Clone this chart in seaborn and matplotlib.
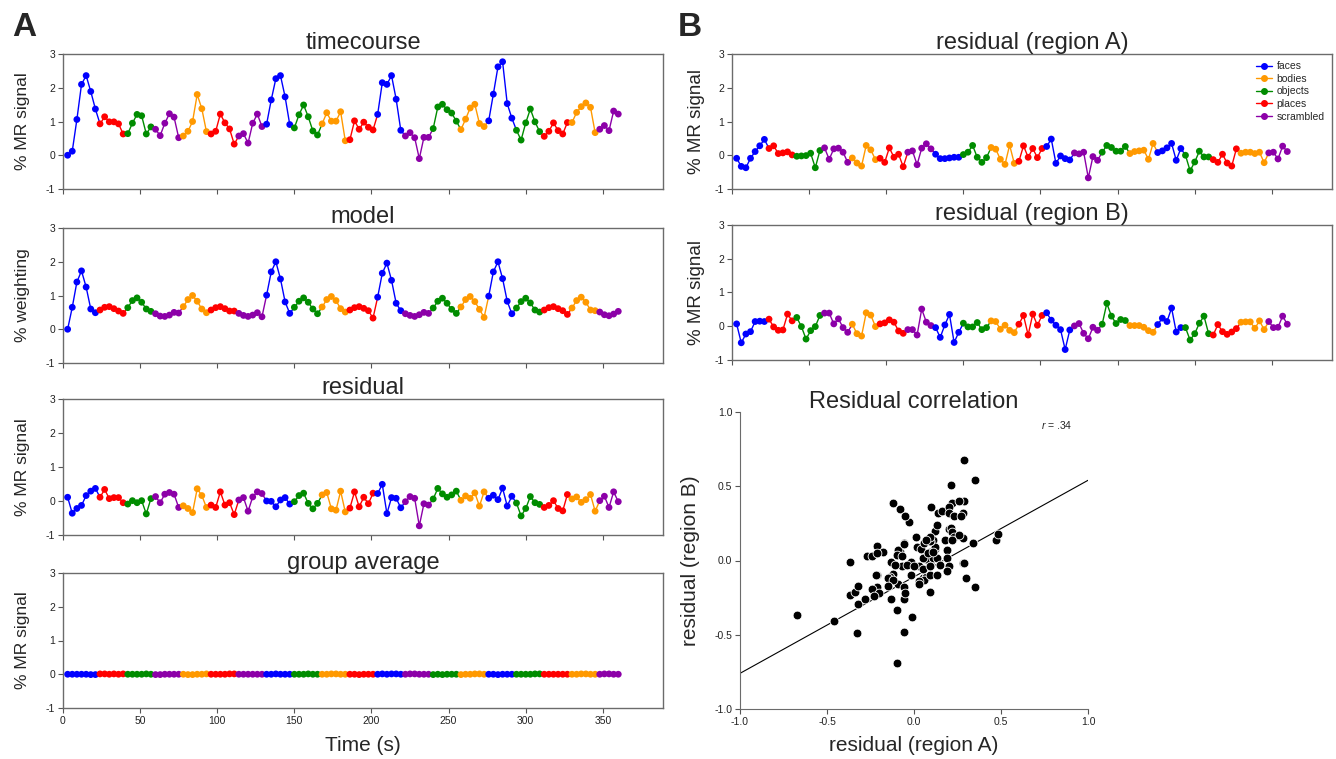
import numpy as np
import pandas as pd
import matplotlib
matplotlib.use('Agg')
import matplotlib.pyplot as plt
from matplotlib.lines import Line2D
import seaborn as sns

# block design: 20 blocks, one sample every 3 s
block_order = ['faces', 'places', 'objects', 'scrambled', 'bodies', 'places', 'scrambled',
               'faces', 'objects', 'bodies', 'places', 'faces', 'scrambled', 'objects',
               'bodies', 'faces', 'objects', 'places', 'bodies', 'scrambled']
legend_order = ['faces', 'bodies', 'objects', 'places', 'scrambled']
palette = {'faces': '#0000ff', 'bodies': '#ff9900', 'objects': '#008c00',
           'places': '#ff0000', 'scrambled': '#8c00a8'}
tr = 3
n_points = 120

timecourse = [0.00, 0.12, 1.06, 2.10, 2.36, 1.89, 1.37,
              0.93, 1.14, 0.99, 0.99, 0.93, 0.63,
              0.64, 0.95, 1.21, 1.17, 0.63, 0.84,
              0.77, 0.58, 0.95, 1.23, 1.13, 0.52,
              0.57, 0.71, 1.00, 1.80, 1.38, 0.70,
              0.63, 0.71, 1.22, 0.96, 0.78, 0.33,
              0.57, 0.64, 0.36, 0.95, 1.22, 0.85,
              0.92, 1.64, 2.27, 2.36, 1.73, 0.91,
              0.81, 1.20, 1.49, 1.14, 0.72, 0.60,
              0.93, 1.26, 1.01, 1.01, 1.29, 0.43,
              0.46, 1.02, 0.77, 0.98, 0.83, 0.75,
              1.21, 2.15, 2.10, 2.36, 1.66, 0.74,
              0.57, 0.67, 0.52, -0.10, 0.53, 0.53,
              0.79, 1.43, 1.51, 1.35, 1.25, 1.01,
              0.76, 1.07, 1.40, 1.51, 0.94, 0.85,
              1.02, 1.81, 2.62, 2.77, 1.53, 1.10,
              0.74, 0.45, 0.96, 1.37, 0.99, 0.70,
              0.56, 0.71, 0.96, 0.73, 0.63, 0.97,
              0.97, 1.27, 1.44, 1.55, 1.42, 0.67,
              0.77, 0.88, 0.73, 1.31, 1.22]

model = [0.00, 0.65, 1.40, 1.73, 1.25, 0.60, 0.49,
         0.57, 0.65, 0.67, 0.61, 0.54, 0.47,
         0.64, 0.85, 0.93, 0.80, 0.60, 0.53,
         0.46, 0.39, 0.38, 0.42, 0.50, 0.48,
         0.67, 0.88, 1.00, 0.83, 0.60, 0.49,
         0.57, 0.64, 0.67, 0.61, 0.54, 0.54,
         0.47, 0.41, 0.38, 0.42, 0.49, 0.37,
         1.01, 1.70, 2.00, 1.49, 0.81, 0.47,
         0.65, 0.83, 0.93, 0.80, 0.60, 0.46,
         0.66, 0.88, 0.97, 0.85, 0.61, 0.51,
         0.57, 0.64, 0.67, 0.62, 0.55, 0.33,
         0.95, 1.66, 1.96, 1.45, 0.77, 0.55,
         0.46, 0.41, 0.38, 0.43, 0.50, 0.47,
         0.63, 0.83, 0.92, 0.77, 0.59, 0.47,
         0.66, 0.88, 0.97, 0.82, 0.59, 0.35,
         0.98, 1.70, 2.00, 1.50, 0.83, 0.46,
         0.63, 0.82, 0.92, 0.78, 0.57, 0.51,
         0.57, 0.64, 0.67, 0.61, 0.55, 0.44,
         0.63, 0.85, 0.95, 0.80, 0.57, 0.55,
         0.51, 0.43, 0.40, 0.45, 0.53]

residual = [0.11, -0.36, -0.22, -0.13, 0.16, 0.29, 0.37,
            0.11, 0.34, 0.07, 0.10, 0.10, -0.05,
            -0.09, 0.01, -0.05, 0.01, -0.38, 0.07,
            0.13, -0.05, 0.20, 0.25, 0.20, -0.19,
            -0.14, -0.22, -0.34, 0.36, 0.16, -0.19,
            -0.12, -0.19, 0.27, -0.12, -0.05, -0.40,
            0.03, 0.10, -0.30, 0.12, 0.27, 0.22,
            0.00, -0.01, -0.17, 0.03, 0.10, -0.09,
            -0.02, 0.16, 0.23, -0.07, -0.23, -0.07,
            0.18, 0.25, -0.23, -0.27, 0.29, -0.32,
            -0.21, 0.27, -0.17, 0.11, -0.08, 0.23,
            0.22, 0.49, -0.37, 0.10, 0.08, -0.20,
            -0.02, 0.13, 0.08, -0.73, -0.08, -0.12,
            0.06, 0.37, 0.21, 0.11, 0.18, 0.29,
            0.02, 0.15, 0.08, 0.24, -0.15, 0.27,
            0.08, 0.17, 0.04, 0.38, -0.15, 0.14,
            -0.06, -0.44, -0.22, 0.13, -0.05, -0.10,
            -0.19, -0.13, 0.01, -0.22, -0.29, 0.19,
            0.06, 0.12, -0.04, 0.04, 0.19, -0.30,
            0.01, 0.14, -0.19, 0.27, -0.02]

group_average = [0.00, 0.00, 0.00, 0.00, 0.00, -0.01, -0.01,
                 0.01, 0.01, 0.00, 0.01, 0.00, 0.01,
                 0.00, 0.00, 0.00, 0.00, 0.01, 0.00,
                 -0.01, -0.01, 0.00, 0.00, 0.00, 0.00,
                 0.00, -0.01, -0.01, 0.00, 0.00, 0.01,
                 0.00, 0.00, 0.00, 0.00, 0.01, 0.01,
                 0.00, 0.00, 0.00, 0.00, 0.00, 0.00,
                 0.00, 0.00, 0.01, 0.00, 0.00, 0.00,
                 0.00, 0.00, 0.00, 0.01, 0.00, 0.00,
                 0.00, 0.00, 0.01, 0.01, 0.00, 0.00,
                 0.00, 0.00, -0.01, 0.00, 0.00, 0.00,
                 0.00, 0.01, 0.00, 0.01, 0.01, 0.00,
                 0.00, 0.01, 0.01, 0.00, 0.00, 0.00,
                 -0.01, 0.00, -0.01, 0.00, 0.00, 0.00,
                 -0.01, 0.00, 0.00, 0.01, 0.01, 0.00,
                 0.00, 0.00, -0.01, 0.00, 0.00, 0.00,
                 0.00, 0.00, 0.00, 0.00, 0.01, 0.01,
                 0.00, 0.00, 0.00, 0.00, 0.00, 0.00,
                 0.00, 0.00, 0.01, 0.01, 0.00, 0.00,
                 0.00, 0.01, 0.01, 0.00, 0.00]

resid_region_a = [-0.09, -0.33, -0.37, -0.09, 0.11, 0.28, 0.47,
                  0.20, 0.28, 0.05, 0.07, 0.10, 0.01,
                  -0.03, -0.02, -0.01, 0.06, -0.37, 0.14,
                  0.22, -0.12, 0.19, 0.21, 0.09, -0.21,
                  -0.08, -0.23, -0.32, 0.29, 0.16, -0.13,
                  -0.09, -0.21, 0.22, -0.06, 0.03, -0.34,
                  0.09, 0.13, -0.28, 0.21, 0.34, 0.19,
                  0.03, -0.10, -0.10, -0.08, -0.06, -0.06,
                  0.02, 0.09, 0.29, -0.06, -0.21, -0.07,
                  0.23, 0.18, -0.12, -0.27, 0.30, -0.24,
                  -0.18, 0.28, -0.06, 0.20, -0.07, 0.20,
                  0.26, 0.48, -0.24, -0.02, -0.10, -0.14,
                  0.07, 0.04, 0.09, -0.67, -0.04, -0.15,
                  0.09, 0.29, 0.23, 0.12, 0.12, 0.26,
                  0.05, 0.11, 0.13, 0.15, -0.12, 0.35,
                  0.08, 0.13, 0.22, 0.35, -0.15, 0.20,
                  0.00, -0.46, -0.20, 0.12, -0.05, -0.05,
                  -0.13, -0.21, 0.03, -0.23, -0.32, 0.19,
                  0.06, 0.09, 0.09, 0.05, 0.09, -0.22,
                  0.07, 0.09, -0.11, 0.27, 0.11]

resid_region_b = [0.07, -0.49, -0.23, -0.16, 0.14, 0.15, 0.14,
                  0.21, -0.02, -0.12, -0.11, 0.36, 0.16,
                  0.26, -0.01, -0.38, -0.13, -0.01, 0.32,
                  0.39, 0.39, 0.07, 0.22, -0.04, -0.18,
                  0.06, -0.22, -0.29, 0.40, 0.33, -0.01,
                  0.07, 0.10, 0.19, 0.12, -0.14, -0.21,
                  -0.10, -0.10, -0.26, 0.51, 0.12, 0.02,
                  -0.04, -0.33, 0.04, 0.35, -0.48, -0.18,
                  0.09, -0.02, -0.02, 0.11, -0.10, -0.04,
                  0.16, 0.14, -0.09, 0.03, -0.12, -0.19,
                  0.06, 0.32, -0.26, 0.36, 0.03, 0.32,
                  0.40, 0.18, 0.03, -0.10, -0.69, -0.11,
                  0.01, 0.08, -0.21, -0.37, -0.03, -0.12,
                  0.06, 0.68, 0.30, 0.08, 0.20, 0.17,
                  0.02, 0.02, 0.02, -0.03, -0.13, -0.18,
                  0.05, 0.24, 0.14, 0.54, -0.17, -0.04,
                  -0.04, -0.41, -0.22, 0.09, 0.30, -0.22,
                  -0.26, 0.05, -0.16, -0.24, -0.17, -0.07,
                  0.12, 0.13, 0.13, -0.06, 0.16, -0.10,
                  0.14, -0.04, -0.03, 0.30, 0.06]

# fitted line shown in the correlation panel
fit_slope = 0.65
fit_intercept = -0.11
r_text = '.34'

time_s = np.arange(1, n_points + 1) * tr
# first block has one extra sample, the last one fewer
point_block = np.maximum(0, (np.arange(n_points) - 1) // 6)
point_cond = [block_order[b] for b in point_block]

sns.set_style('white')
plt.rcParams['font.family'] = ['Liberation Sans', 'DejaVu Sans']
plt.rcParams['axes.unicode_minus'] = False
plt.rcParams['mathtext.fontset'] = 'custom'
plt.rcParams['mathtext.it'] = 'Liberation Sans:italic'
plt.rcParams['mathtext.rm'] = 'Liberation Sans'

W, H = 1336, 759
fig = plt.figure(figsize=(W / 100, H / 100), dpi=100)


def add_ax(left, top, right, bottom):
    return fig.add_axes([left / W, 1 - bottom / H, (right - left) / W, (bottom - top) / H])


def draw_series(ax, values):
    df = pd.DataFrame({'time': time_s, 'value': values, 'condition': point_cond})
    for b, cond in enumerate(block_order):
        idx = np.flatnonzero(point_block == b)
        if idx[-1] + 1 < n_points:
            idx = np.append(idx, idx[-1] + 1)
        sns.lineplot(x=df['time'].values[idx], y=df['value'].values[idx], color=palette[cond],
                     lw=1.0, sort=False, estimator=None, ax=ax)
    sns.scatterplot(data=df, x='time', y='value', hue='condition', palette=palette,
                    s=24, linewidth=0, legend=False, ax=ax, zorder=3)


def style_ts(ax, title, ylabel, xlabels=False, label_x=-0.055, ylabel_size=12.5):
    ax.set_xlim(0, 389)
    ax.set_ylim(-1, 3)
    ax.set_xticks(range(0, 351, 50))
    ax.set_yticks([-1, 0, 1, 2, 3])
    ax.tick_params(direction='out', length=3.5, width=0.8, color='#555555', labelsize=7.5,
                   labelcolor='#222222', left=True, bottom=True, pad=2)
    if not xlabels:
        ax.set_xticklabels([])
    for s in ax.spines.values():
        s.set_color('#6b6b6b')
        s.set_linewidth(1.0)
    ax.set_title(title, fontsize=17, pad=3)
    ax.set_xlabel('')
    ax.set_ylabel(ylabel, fontsize=ylabel_size)
    ax.yaxis.set_label_coords(label_x, 0.5)


# column A
panels_a = [(timecourse, 'timecourse', '% MR signal', 54, 189),
            (model, 'model', '% weighting', 228, 363),
            (residual, 'residual', '% MR signal', 399, 535),
            (group_average, 'group average', '% MR signal', 573, 708)]
for k, (vals, title, ylab, top, bottom) in enumerate(panels_a):
    ax = add_ax(63, top, 663, bottom)
    draw_series(ax, vals)
    style_ts(ax, title, ylab, xlabels=(k == 3))
    if k == 3:
        ax.set_xlabel('Time (s)', fontsize=15)
        ax.xaxis.set_label_coords(0.5, -0.205)

# column B
ax_a = add_ax(732, 54, 1332, 189)
draw_series(ax_a, resid_region_a)
style_ts(ax_a, 'residual (region A)', '% MR signal', label_x=-0.045, ylabel_size=13.5)
handles = [Line2D([0], [0], color=palette[c], marker='o', markersize=4, lw=1, label=c)
           for c in legend_order]
ax_a.legend(handles=handles, loc='upper right', frameon=False, fontsize=7.5,
            handlelength=1.6, handletextpad=0.4, labelspacing=0.25, borderaxespad=0.3)

ax_b = add_ax(732, 225, 1332, 360)
draw_series(ax_b, resid_region_b)
style_ts(ax_b, 'residual (region B)', '% MR signal', label_x=-0.045, ylabel_size=13.5)

# residual correlation
ax_s = add_ax(740, 412, 1088, 709)
sns.scatterplot(x=resid_region_a, y=resid_region_b, color='black', edgecolor='white',
                linewidth=0.6, s=40, ax=ax_s, zorder=3)
ax_s.axline((0, fit_intercept), slope=fit_slope, color='black', lw=0.8)
ax_s.set_xlim(-1, 1)
ax_s.set_ylim(-1, 1)
ticks = [-1.0, -0.5, 0.0, 0.5, 1.0]
ax_s.set_xticks(ticks)
ax_s.set_yticks(ticks)
ax_s.set_xticklabels([f'{t:.1f}' for t in ticks])
ax_s.set_yticklabels([f'{t:.1f}' for t in ticks])
ax_s.tick_params(direction='out', length=3.5, width=0.8, color='#555555', labelsize=7.5,
                 labelcolor='#222222', left=True, bottom=True, pad=2)
sns.despine(ax=ax_s)
for s in ['left', 'bottom']:
    ax_s.spines[s].set_color('#6b6b6b')
ax_s.set_title('Residual correlation', fontsize=17, pad=3)
ax_s.set_xlabel('residual (region A)', fontsize=15)
ax_s.set_ylabel('residual (region B)', fontsize=15)
ax_s.xaxis.set_label_coords(0.5, -0.092)
ax_s.yaxis.set_label_coords(-0.115, 0.5)
ax_s.text(0.82, 0.91, r'$r$ = ' + r_text, fontsize=7.5, ha='center', va='center')

fig.text(12 / W, 1 - 12 / H, 'A', fontsize=24, fontweight='bold', ha='left', va='top')
fig.text(678 / W, 1 - 12 / H, 'B', fontsize=24, fontweight='bold', ha='left', va='top')

fig.savefig('out.png', dpi=100)
